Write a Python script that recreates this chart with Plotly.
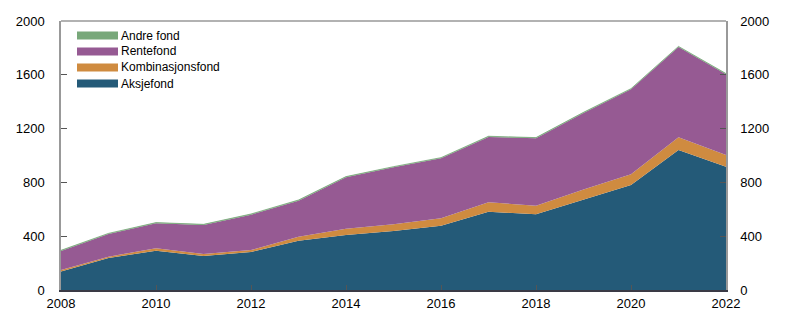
import plotly.graph_objects as go

years = list(range(2008, 2023))
aksjefond = [138, 238, 292, 253, 283, 367, 408, 439, 478, 582, 563, 674, 781, 1041, 917]
kombinasjonsfond = [10, 10, 18, 15, 14, 29, 47, 49, 55, 70, 64, 74, 79, 94, 87]
rentefond = [142, 168, 186, 215, 263, 268, 383, 424, 446, 486, 501, 568, 632, 671, 600]
andre_fond = [5, 5, 5, 5, 5, 5, 5, 5, 5, 5, 5, 5, 5, 5, 5]

series = [
    ("Aksjefond", aksjefond, "#245a78"),
    ("Kombinasjonsfond", kombinasjonsfond, "#cf8b40"),
    ("Rentefond", rentefond, "#965a93"),
    ("Andre fond", andre_fond, "#78a87a"),
]

y_ticks = [0, 400, 800, 1200, 1600, 2000]
x_ticks = list(range(2008, 2023, 2))

fig = go.Figure()
for name, vals, col in series:
    fig.add_trace(go.Scatter(
        x=years, y=vals, name=name, mode="lines",
        stackgroup="one", line=dict(width=0.8 if name == "Andre fond" else 0, color=col),
        fillcolor=col, showlegend=False,
    ))
# invisible trace for right axis
fig.add_trace(go.Scatter(x=[years[0]], y=[0], yaxis="y2", showlegend=False,
                         mode="markers", marker=dict(opacity=0), hoverinfo="skip"))

# plot area in pixels
L, R, T, B = 61, 726, 21, 290
W, H = R - L, B - T

def px(x):
    return (x - L) / W

def py(y):
    return (B - y) / H

shapes = [dict(type="line", xref="paper", yref="paper", x0=0, x1=1, y0=1, y1=1,
               line=dict(color="#999", width=1.5))]
annotations = []
legend_rows = list(reversed(series))
for i, (name, vals, col) in enumerate(legend_rows):
    cy = 35.5 + i * 16
    shapes.append(dict(type="rect", xref="paper", yref="paper",
                       x0=px(77), x1=px(118), y0=py(cy + 4), y1=py(cy - 4),
                       fillcolor=col, line=dict(width=0)))
    annotations.append(dict(xref="paper", yref="paper", x=px(119), y=py(cy),
                            xanchor="left", yanchor="middle", showarrow=False,
                            text=name, font=dict(size=12, family="Liberation Sans, Arial", color="#000")))

font = dict(family="Liberation Sans, Arial", size=13, color="#000")
fig.update_layout(
    width=796, height=331,
    margin=dict(l=L, r=796 - R, t=T, b=331 - B),
    plot_bgcolor="white", paper_bgcolor="white",
    font=font,
    showlegend=False,
    xaxis=dict(range=[2008, 2022], tickvals=x_ticks, ticks="inside", ticklen=5,
               tickcolor="#555", showgrid=False, zeroline=False,
               showline=True, linecolor="#3a3a45", linewidth=2, mirror=False,
               tickfont=dict(size=13)),
    yaxis=dict(range=[0, 2000], tickvals=y_ticks, ticks="inside", ticklen=6,
               tickcolor="#555", showgrid=False, zeroline=False,
               showline=True, linecolor="#999", linewidth=1.5,
               ticklabelstandoff=12, tickfont=dict(size=13)),
    yaxis2=dict(range=[0, 2000], tickvals=y_ticks, ticks="inside", ticklen=6,
                tickcolor="#555", showgrid=False, zeroline=False,
                overlaying="y", side="right",
                showline=True, linecolor="#999", linewidth=1.5,
                ticklabelstandoff=10, tickfont=dict(size=13)),
    shapes=shapes,
    annotations=annotations,
)

fig.write_html("out.html")
